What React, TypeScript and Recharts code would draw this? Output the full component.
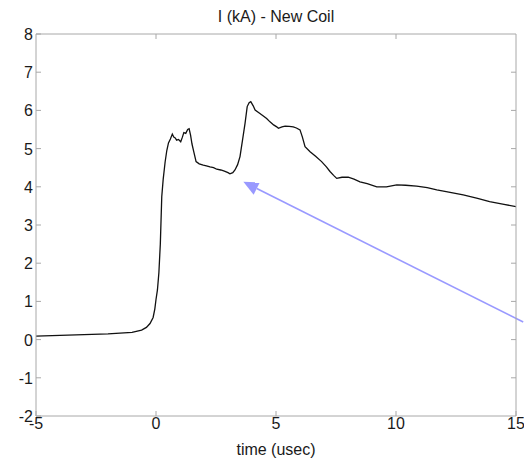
import React from "react";
import { LineChart, Line, XAxis, YAxis, ReferenceLine, Label } from "recharts";

const timeUs: number[] = [
  -5, -4, -3, -2, -1, -0.6, -0.4, -0.25, -0.12, -0.05, 0, 0.06, 0.12, 0.18, 0.24, 0.3, 0.38, 0.45, 0.52, 0.6,
  0.68, 0.74, 0.8, 0.86, 0.94, 1.03, 1.1, 1.16, 1.24, 1.32, 1.38, 1.44, 1.5, 1.58, 1.67, 1.8, 1.97, 2.1, 2.25, 2.4,
  2.53, 2.7, 2.85, 3.0, 3.08, 3.2, 3.29, 3.4, 3.5, 3.6, 3.71, 3.8, 3.88, 3.95, 4.05, 4.13, 4.33, 4.5, 4.61, 4.75,
  4.9, 5.03, 5.1, 5.25, 5.38, 5.55, 5.72, 5.85, 6.0, 6.1, 6.21, 6.42, 6.65, 6.9, 7.1, 7.25, 7.4, 7.53, 7.75, 8.01,
  8.25, 8.5, 8.8, 9.2, 9.6, 10.03, 10.4, 10.86, 11.3, 11.7, 12.2, 12.8, 13.4, 13.9, 14.5, 15,
];

const currentKA: number[] = [
  0.09, 0.11, 0.13, 0.15, 0.19, 0.25, 0.32, 0.42, 0.58, 0.8, 1.05, 1.3, 1.75, 2.5, 3.74, 4.2, 4.65, 4.95, 5.15, 5.25,
  5.38, 5.3, 5.28, 5.22, 5.24, 5.18, 5.3, 5.42, 5.4, 5.5, 5.52, 5.35, 5.12, 4.9, 4.66, 4.6, 4.57, 4.55, 4.52, 4.5,
  4.46, 4.44, 4.41, 4.37, 4.34, 4.37, 4.44, 4.58, 4.79, 5.2, 5.66, 6.1, 6.2, 6.23, 6.12, 6.01, 5.92, 5.84, 5.79, 5.7,
  5.62, 5.57, 5.53, 5.57, 5.59, 5.58, 5.57, 5.54, 5.49, 5.3, 5.05, 4.92, 4.8, 4.66, 4.52, 4.4, 4.3, 4.22, 4.25, 4.25,
  4.2, 4.13, 4.08, 4.0, 4.0, 4.05, 4.04, 4.02, 3.98, 3.92, 3.86, 3.79, 3.7, 3.61, 3.54, 3.48,
];

const xTicks: number[] = [-5, 0, 5, 10, 15];
const yTicks: number[] = [-2, -1, 0, 1, 2, 3, 4, 5, 6, 7, 8];

// Annotation arrow (data coordinates): tail outside the right edge, tip near the dip
const arrowTail = { x: 15.3, y: 0.46 };
const arrowTip = { x: 3.64, y: 4.13 };

const chartData = timeUs.map((t, i) => ({ t, i: currentKA[i] }));

const FONT = "'Liberation Sans', Arial, sans-serif";
const AXIS_GREY = "#a8a8a8";
const TICK_LEN = 5;

const BottomTick = (props: any) => {
  const { x, y, payload } = props;
  return (
    <g>
      <line x1={x} y1={y} x2={x} y2={y - TICK_LEN} stroke={AXIS_GREY} />
      <text x={x} y={y + 13} textAnchor="middle" fontFamily={FONT} fontSize={16} fill="#1a1a1a">
        {payload.value}
      </text>
    </g>
  );
};

const TopTick = (props: any) => {
  const { x, y } = props;
  return <line x1={x} y1={y} x2={x} y2={y + TICK_LEN} stroke={AXIS_GREY} />;
};

const LeftTick = (props: any) => {
  const { x, y, payload } = props;
  return (
    <g>
      <line x1={x} y1={y} x2={x + TICK_LEN} y2={y} stroke={AXIS_GREY} />
      <text x={x - 3} y={y + 6} textAnchor="end" fontFamily={FONT} fontSize={16} fill="#1a1a1a">
        {payload.value}
      </text>
    </g>
  );
};

const RightTick = (props: any) => {
  const { x, y } = props;
  return <line x1={x} y1={y} x2={x - TICK_LEN} y2={y} stroke={AXIS_GREY} />;
};

const ArrowShape = (props: any) => {
  const { x1, y1, x2, y2 } = props;
  if ([x1, y1, x2, y2].some((v) => typeof v !== "number" || isNaN(v))) return <g />;
  const dx = x2 - x1;
  const dy = y2 - y1;
  const len = Math.sqrt(dx * dx + dy * dy) || 1;
  const ux = dx / len;
  const uy = dy / len;
  const headLen = 15;
  const headHalf = 7;
  const bx = x2 - ux * headLen;
  const by = y2 - uy * headLen;
  const px = -uy;
  const py = ux;
  const pts = `${x2},${y2} ${bx + px * headHalf},${by + py * headHalf} ${bx - px * headHalf},${by - py * headHalf}`;
  return (
    <g>
      <line x1={x1} y1={y1} x2={bx} y2={by} stroke="#9999ff" strokeWidth={1.6} />
      <polygon points={pts} fill="#9999ff" stroke="none" />
    </g>
  );
};

export default function App() {
  return (
    <div style={{ position: "absolute", left: 0, top: 0, width: 524, height: 461, background: "#fff" }}>
      <LineChart
        width={524}
        height={461}
        data={chartData}
        margin={{ top: 0, right: 0, left: 0, bottom: 0 }}
      >
        <XAxis
          dataKey="t"
          type="number"
          domain={[-5, 15]}
          ticks={xTicks}
          allowDataOverflow
          height={45}
          stroke={AXIS_GREY}
          tickLine={false}
          tickSize={0}
          tickMargin={0}
          tick={<BottomTick />}
          interval={0}
        >
          <Label
            value="time (usec)"
            position="insideBottom"
            offset={6}
            style={{ fontFamily: FONT, fontSize: 16, fill: "#1a1a1a" }}
          />
        </XAxis>
        <XAxis
          xAxisId="top"
          orientation="top"
          dataKey="t"
          type="number"
          domain={[-5, 15]}
          ticks={[0, 5, 10]}
          allowDataOverflow
          height={34}
          stroke={AXIS_GREY}
          tickLine={false}
          tickSize={0}
          tickMargin={0}
          tick={<TopTick />}
          interval={0}
        >
          <Label
            value="I (kA) - New Coil"
            position="center"
            dy={-1}
            style={{ fontFamily: FONT, fontSize: 16, fill: "#1a1a1a" }}
          />
        </XAxis>
        <YAxis
          type="number"
          domain={[-2, 8]}
          ticks={yTicks}
          allowDataOverflow
          width={36}
          stroke={AXIS_GREY}
          tickLine={false}
          tickSize={0}
          tickMargin={0}
          tick={<LeftTick />}
          interval={0}
        />
        <YAxis
          yAxisId="right"
          orientation="right"
          type="number"
          domain={[-2, 8]}
          ticks={yTicks.slice(1, -1)}
          allowDataOverflow
          width={8}
          stroke={AXIS_GREY}
          tickLine={false}
          tickSize={0}
          tickMargin={0}
          tick={<RightTick />}
          interval={0}
        />
        <Line
          type="linear"
          dataKey="i"
          stroke="#111111"
          strokeWidth={1.3}
          dot={false}
          isAnimationActive={false}
        />
        <ReferenceLine
          segment={[arrowTail, arrowTip]}
          ifOverflow="visible"
          shape={<ArrowShape />}
        />
      </LineChart>
    </div>
  );
}
